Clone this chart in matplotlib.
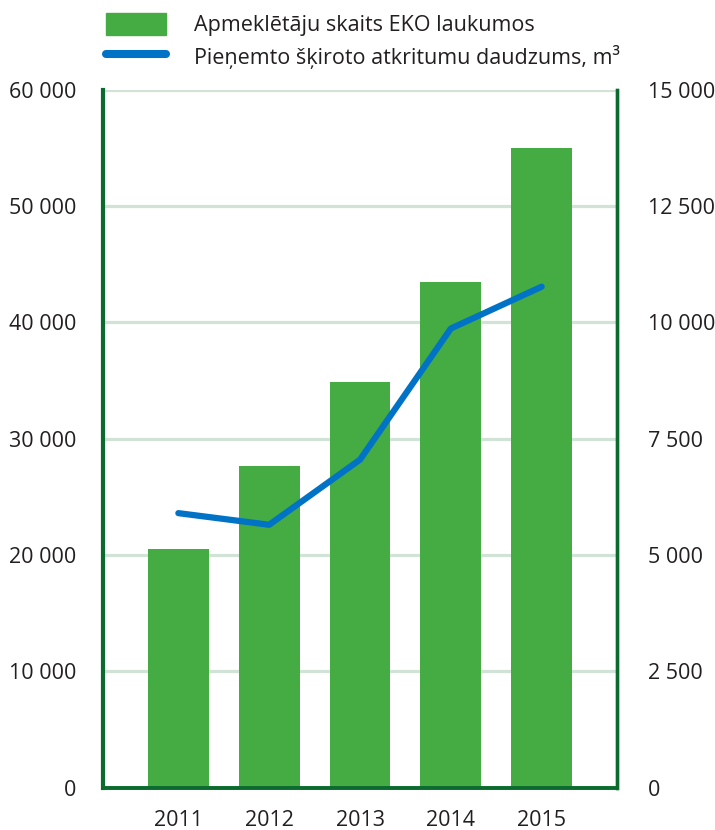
import numpy as np
import matplotlib.pyplot as plt
from matplotlib.patches import Patch
from matplotlib.lines import Line2D

plt.rcParams['font.family'] = ['Open Sans', 'DejaVu Sans']

years = ['2011', '2012', '2013', '2014', '2015']
visitors = [20500, 27650, 34900, 43500, 55000]          # left axis, bars
waste_m3 = [5900, 5650, 7050, 9870, 10770]               # right axis, line

left_ticks = [0, 10000, 20000, 30000, 40000, 50000, 60000]
right_ticks = [0, 2500, 5000, 7500, 10000, 12500, 15000]

bar_color = '#45AC43'
line_color = '#0073C7'
spine_color = '#0B6B2E'
grid_color = '#D1E3D6'
text_color = '#231F20'


def fmt(v):
    return f'{v:,}'.replace(',', ' ')


fig = plt.figure(figsize=(7.15, 8.3), dpi=100)
ax = fig.add_axes([0.144, 0.0512, 0.719, 0.8404])
ax2 = ax.twinx()

ind = np.arange(len(years))
ax.bar(ind, visitors, 0.67, color=bar_color, zorder=2)
ax.set_xlim(-0.83, len(years) - 1 + 0.83)
ax.set_ylim(0, 60000)
ax.set_yticks(left_ticks)
ax.set_yticklabels([fmt(v) for v in left_ticks])
ax.set_xticks(ind)
ax.set_xticklabels(years)
for y in left_ticks[1:]:
    ax.axhline(y, color=grid_color, lw=2.3, zorder=1)

ax2.plot(ind, waste_m3, color=line_color, lw=4.5,
         solid_capstyle='round', solid_joinstyle='round', zorder=3)
ax2.set_ylim(0, 15000)
ax2.set_yticks(right_ticks)
ax2.set_yticklabels([fmt(v) for v in right_ticks])

for a in (ax, ax2):
    a.spines['top'].set_visible(False)
    for s in ('left', 'right', 'bottom'):
        a.spines[s].set_color(spine_color)
    a.spines['left'].set_linewidth(3)
    a.spines['right'].set_linewidth(2.4)
    a.spines['bottom'].set_linewidth(2.6)
    a.tick_params(length=0, labelsize=15.5, colors=text_color)

ax.tick_params(axis='y', pad=19)
ax.tick_params(axis='x', pad=16)
ax2.tick_params(axis='y', pad=22)
ax2.spines['left'].set_visible(False)

handles = [Patch(color=bar_color),
           Line2D([0], [0], color=line_color, lw=5.8, solid_capstyle='round')]
labels = ['Apmeklētāju skaits EKO laukumos',
          'Pieņemto šķiroto atkritumu daudzums, m³']
fig.legend(handles, labels, loc='upper left', bbox_to_anchor=(0.148, 0.984),
           frameon=False, fontsize=15.5, handlelength=2.8, handleheight=1.16,
           handletextpad=1.3, labelspacing=0.38, borderpad=0,
           borderaxespad=0, labelcolor=text_color)

fig.savefig('out.png', dpi=100)
